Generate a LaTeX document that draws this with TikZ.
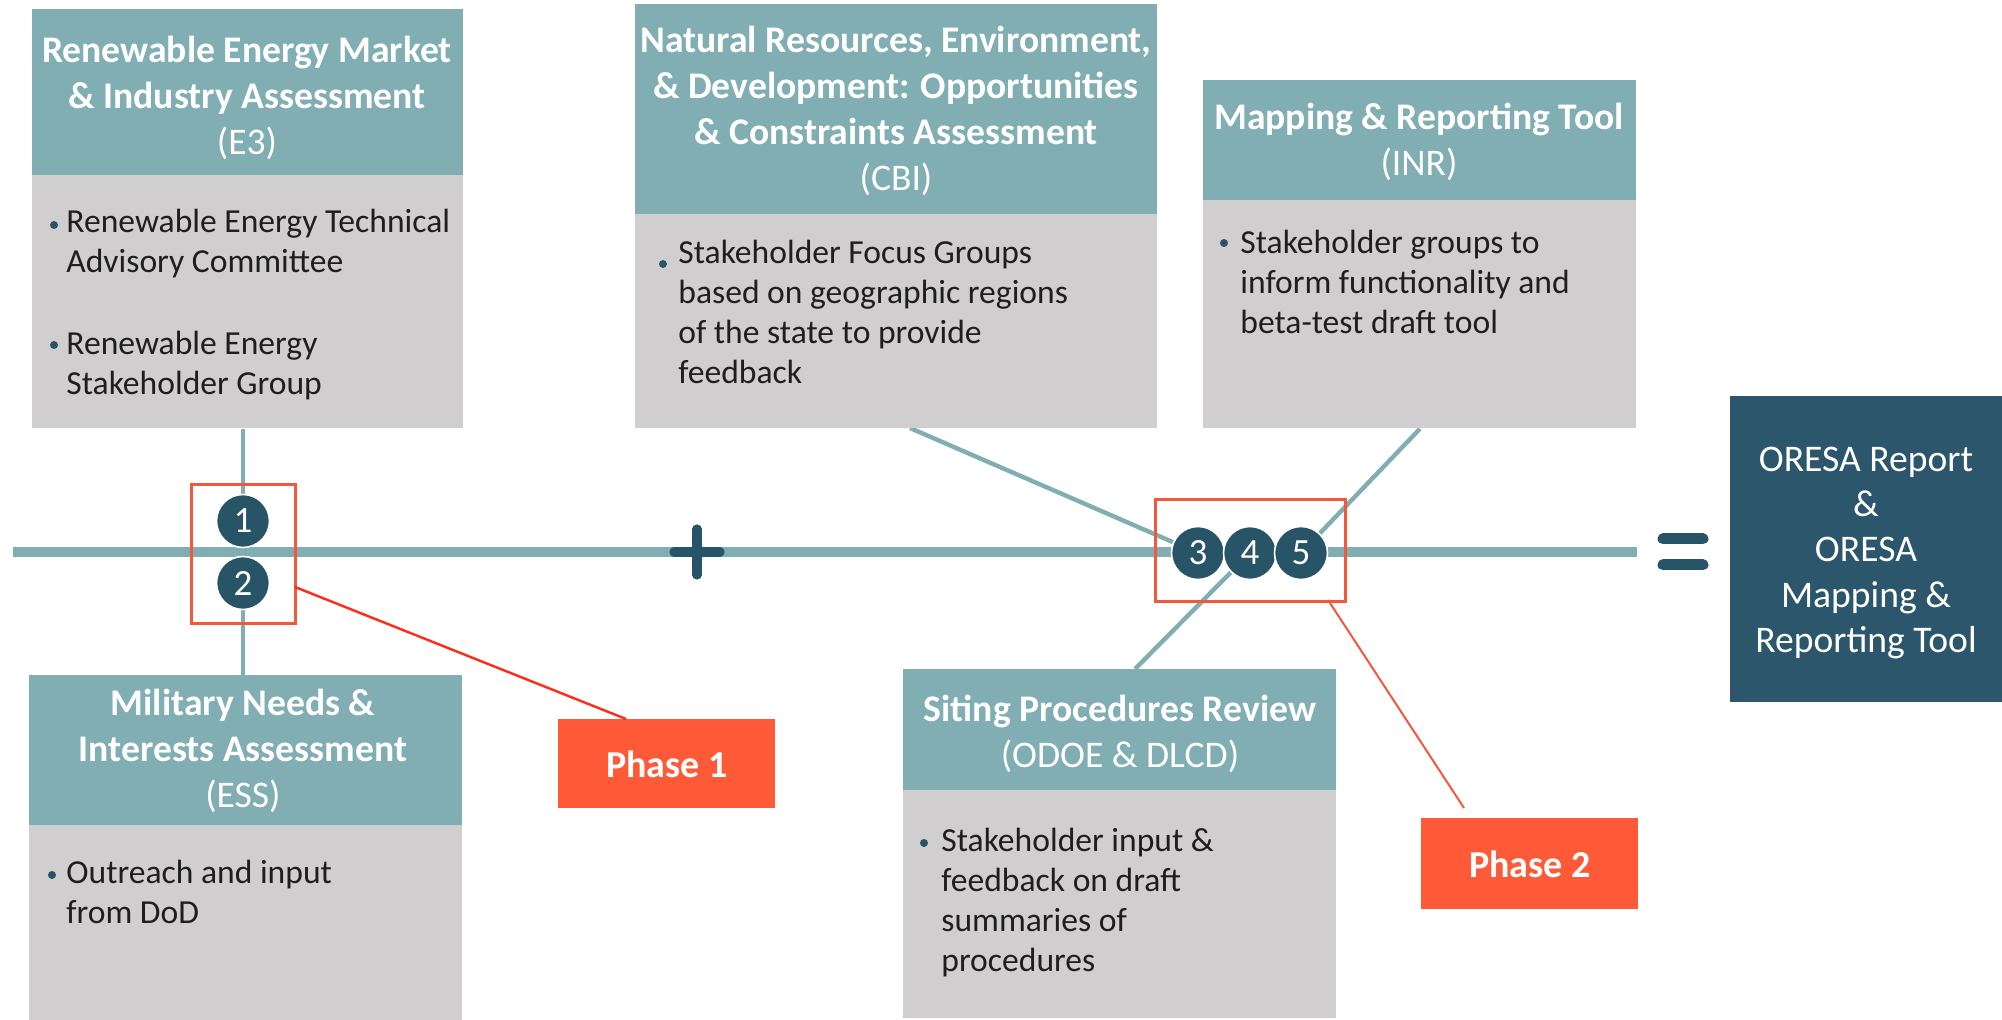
\documentclass[tikz,border=0pt]{standalone}
\usepackage{fontspec}
\setmainfont{Carlito}
\usetikzlibrary{backgrounds}
\definecolor{tealc}{HTML}{80AEB3}
\definecolor{greyc}{HTML}{D0CECE}
\definecolor{navy}{HTML}{285468}
\definecolor{boxnavy}{HTML}{2B566B}
\definecolor{orangec}{HTML}{FF5A38}
\definecolor{redl}{HTML}{FF2A1A}
\definecolor{redbox}{HTML}{F2583C}
\definecolor{bodytext}{HTML}{1E1E1E}
\tikzset{
  x=0.5pt, y=-0.5pt,
  hdr/.style={fill=tealc, anchor=north west, inner sep=0pt, draw=none},
  bdy/.style={fill=greyc, anchor=north west, inner sep=0pt, draw=none},
  htext/.style={text=white, font=\fontsize{18.8}{23}\selectfont\bfseries, align=center, inner sep=0pt},
  btext/.style={text=bodytext, font=\fontsize{16.8}{20}\selectfont, align=left, anchor=base west, inner sep=0pt},
  num/.style={circle, fill=navy, draw=white, line width=0.8pt, minimum size=26.5pt, inner sep=0pt, text=white, font=\fontsize{18.5}{18.5}\selectfont},
  link/.style={draw=tealc, line width=2.2pt},
  phasebox/.style={fill=orangec, text=white, font=\fontsize{19}{20}\selectfont\bfseries, inner sep=0pt, anchor=north west},
  redframe/.style={draw=redbox, line width=1.3pt, anchor=north west, inner sep=0pt},
  bul/.style={fill=navy},
}
\begin{document}
\begin{tikzpicture}
\useasboundingbox (0,0) rectangle (2002,1020);
% main line
\coordinate (lstart) at (13,552);
\coordinate (lend) at (1637,552);
\draw[tealc, line width=5pt] (lstart) -- (lend);

% E3 box
\node[hdr, minimum width=215.5pt, minimum height=83pt] (e3h) at (32,9) {};
\node[bdy, minimum width=215.5pt, minimum height=126.5pt] (e3b) at (32,175) {};
\node[htext] (e3t) at (247,98) {Renewable Energy Market\\\& Industry Assessment\\{\mdseries (E3)}};
\fill[bul] (54,225) circle (2pt);
\node[btext] (e3l1) at (66,273) {Renewable Energy Technical\\Advisory Committee};
\fill[bul] (54,345) circle (2pt);
\node[btext] (e3l2) at (66,395) {Renewable Energy\\Stakeholder Group};

% CBI box
\node[hdr, minimum width=261pt, minimum height=105pt] (cbih) at (635,4) {};
\node[bdy, minimum width=261pt, minimum height=107pt] (cbib) at (635,214) {};
\node[htext] (cbit) at (896,111) {Natural Resources, Environment,\\\& Development: Opportunities\\\& Constraints Assessment\\{\mdseries (CBI)}};
\fill[bul] (663,264) circle (2pt);
\node[btext] (cbil) at (678,384) {Stakeholder Focus Groups\\based on geographic regions\\of the state to provide\\feedback};

% INR box
\node[hdr, minimum width=216.5pt, minimum height=60pt] (inrh) at (1203,80) {};
\node[bdy, minimum width=216.5pt, minimum height=114pt] (inrb) at (1203,200) {};
\node[htext] (inrt) at (1419,142) {Mapping \& Reporting Tool\\{\mdseries (INR)}};
\fill[bul] (1224,243) circle (2pt);
\node[btext] (inrl) at (1240,334) {Stakeholder groups to\\inform functionality and\\beta-test draft tool};

% ESS box
\node[hdr, minimum width=216.5pt, minimum height=75pt] (essh) at (29,675) {};
\node[bdy, minimum width=216.5pt, minimum height=97.5pt] (essb) at (29,825) {};
\node[htext] (esst) at (243,751) {Military Needs \&\\Interests Assessment\\{\mdseries (ESS)}};
\fill[bul] (52,875) circle (2pt);
\node[btext] (essl) at (66,923) {Outreach and input\\from DoD};

% ODOE box
\node[hdr, minimum width=216.5pt, minimum height=60.5pt] (odoeh) at (903,669) {};
\node[bdy, minimum width=216.5pt, minimum height=114pt] (odoeb) at (903,790) {};
\node[htext] (odoet) at (1120,734) {Siting Procedures Review\\{\mdseries (ODOE \& DLCD)}};
\fill[bul] (924,843) circle (2pt);
\node[btext] (odoel) at (941,971) {Stakeholder input \&\\feedback on draft\\summaries of\\procedures};

% ORESA box
\node[fill=boxnavy, anchor=north west, inner sep=0pt, minimum width=136pt, minimum height=153pt] (oresa) at (1730,396) {};
\node[text=white, font=\fontsize{18.8}{22.6}\selectfont, align=center, inner sep=0pt] (oresat) at (1866,553) {ORESA Report\\\&\\ORESA\\Mapping \&\\Reporting Tool};

% plus and equals
\draw[navy, line width=4.6pt, line cap=round] (674,552) -- (720,552) (697,529) -- (697,575);
\draw[navy, line width=5.5pt, line cap=round] (1663,539) -- (1703,539) (1663,565) -- (1703,565);

% numbered circles
\node[num] (c1) at (243,521) {1};
\node[num] (c2) at (243,583) {2};
\node[num] (c3) at (1198,553) {3};
\node[num] (c4) at (1250,553) {4};
\node[num] (c5) at (1301,553) {5};

% teal connectors
\coordinate (cbiout) at (910,428);
\coordinate (odoein) at (1135,669);
\begin{scope}[on background layer]
\draw[link] (e3b.south -| c1) -- (c1);
\draw[link] (c2) -- (essh.north -| c2);
\draw[link] (cbiout) -- (c3);
\draw[link] (inrb.south) -- (c5);
\draw[link] (odoein) -- (c4);
\end{scope}

% red frames and phases
\node[redframe, minimum width=52pt, minimum height=69.5pt] (r1) at (190,483) {};
\node[redframe, minimum width=95pt, minimum height=51pt] (r2) at (1154,498) {};
\node[phasebox, minimum width=108.5pt, minimum height=44.5pt] (p1) at (558,719) {Phase 1};
\node[phasebox, minimum width=108.5pt, minimum height=45.5pt] (p2) at (1421,818) {Phase 2};
\coordinate (r1out) at (295,587);
\coordinate (p1in) at (626,719);
\coordinate (r2out) at (1328,600);
\coordinate (p2in) at (1464,808);
\draw[redl, line width=1.2pt] (r1out) -- (p1in);
\draw[redbox, line width=1pt] (r2out) -- (p2in);
\end{tikzpicture}
\end{document}
